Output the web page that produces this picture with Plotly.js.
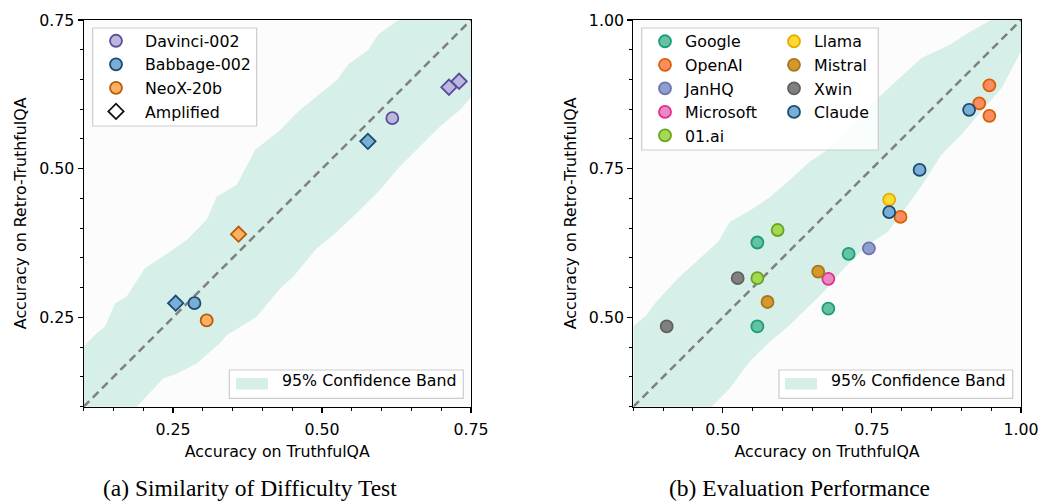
<!DOCTYPE html>
<html>
<head>
<meta charset="utf-8">
<script src="https://cdn.plot.ly/plotly-3.0.1.min.js"></script>
<style>
html,body{margin:0;padding:0;background:#fff;}
#chart{width:1041px;height:504px;}
</style>
</head>
<body>
<div id="chart"></div>
<script>
// ---------- Panel (a) data ----------
const rangeA = [0.1, 0.75];
const modelsA = ['Davinci-002', 'Babbage-002', 'NeoX-20b'];
const baseX = [0.618, 0.286, 0.3065];
const baseY = [0.585, 0.274, 0.245];
const ampDavinciX = [0.713, 0.730];
const ampDavinciY = [0.637, 0.647];
const ampBabbageX = [0.2545, 0.577];
const ampBabbageY = [0.274, 0.546];
const ampNeoXX = [0.360];
const ampNeoXY = [0.390];
// confidence band (a)
const bandAUpperX = [0.10, 0.119, 0.136, 0.153, 0.172, 0.203, 0.237, 0.273, 0.307, 0.323, 0.357, 0.388, 0.43, 0.46, 0.494, 0.525, 0.544, 0.578, 0.594, 0.628, 0.75];
const bandAUpperY = [0.201, 0.221, 0.235, 0.274, 0.285, 0.333, 0.355, 0.38, 0.415, 0.453, 0.473, 0.532, 0.565, 0.596, 0.624, 0.649, 0.675, 0.70, 0.725, 0.75, 0.87];
const bandALowerX = [0.10, 0.189, 0.234, 0.256, 0.29, 0.329, 0.34, 0.39, 0.43, 0.452, 0.491, 0.525, 0.558, 0.597, 0.631, 0.664, 0.698, 0.732, 0.75];
const bandALowerY = [0.0, 0.10, 0.148, 0.155, 0.173, 0.207, 0.22, 0.251, 0.299, 0.319, 0.366, 0.394, 0.425, 0.464, 0.504, 0.537, 0.571, 0.599, 0.62];

// ---------- Panel (b) data ----------
const rangeB = [0.35, 1.0];
const providers = ['Google', 'OpenAI', 'JanHQ', 'Microsoft', '01.ai', 'Llama', 'Mistral', 'Xwin', 'Claude'];
const provX = {
  'Google':    [0.558, 0.711, 0.677, 0.558],
  'OpenAI':    [0.947, 0.930, 0.947, 0.798],
  'JanHQ':     [0.745],
  'Microsoft': [0.677],
  '01.ai':     [0.592, 0.558],
  'Llama':     [0.779],
  'Mistral':   [0.660, 0.575],
  'Xwin':      [0.525, 0.406],
  'Claude':    [0.913, 0.830, 0.779]
};
const provY = {
  'Google':    [0.626, 0.607, 0.515, 0.485],
  'OpenAI':    [0.890, 0.860, 0.839, 0.669],
  'JanHQ':     [0.616],
  'Microsoft': [0.565],
  '01.ai':     [0.647, 0.566],
  'Llama':     [0.698],
  'Mistral':   [0.577, 0.526],
  'Xwin':      [0.566, 0.485],
  'Claude':    [0.849, 0.748, 0.677]
};
const bandBUpperX = [0.35, 0.372, 0.389, 0.406, 0.425, 0.459, 0.492, 0.512, 0.543, 0.576, 0.609, 0.646, 0.679, 0.76, 0.833, 0.88, 0.914, 0.95, 1.0];
const bandBUpperY = [0.485, 0.504, 0.527, 0.546, 0.566, 0.597, 0.627, 0.661, 0.678, 0.70, 0.728, 0.762, 0.784, 0.869, 0.936, 0.958, 0.98, 1.0, 1.05];
const bandBLowerX = [0.35, 0.481, 0.512, 0.545, 0.579, 0.612, 0.646, 0.671, 0.704, 0.743, 0.777, 0.810, 0.838, 0.866, 0.90, 0.933, 0.967, 1.0];
const bandBLowerY = [0.20, 0.35, 0.381, 0.426, 0.459, 0.487, 0.521, 0.545, 0.583, 0.622, 0.644, 0.689, 0.728, 0.773, 0.807, 0.846, 0.885, 0.947];

// ---------- styles ----------
const FONT = 'DejaVu Sans, sans-serif';
const FS = 15.8;
const bandColor = '#d6efe9';
const colA = {
  'Davinci-002': {fill: '#bcb7dc', edge: '#5b4c9e'},
  'Babbage-002': {fill: '#79aed6', edge: '#1d4a6e'},
  'NeoX-20b':    {fill: '#fdb062', edge: '#b65b08'}
};
const colB = {
  'Google':    {fill: '#66c2a5', edge: '#1b9e77'},
  'OpenAI':    {fill: '#fc8d62', edge: '#d95f02'},
  'JanHQ':     {fill: '#8da0cb', edge: '#7570b3'},
  'Microsoft': {fill: '#e78ac3', edge: '#e7298a'},
  '01.ai':     {fill: '#a6d854', edge: '#66a61e'},
  'Llama':     {fill: '#ffd92f', edge: '#e6ab02'},
  'Mistral':   {fill: '#d6982c', edge: '#a6761d'},
  'Xwin':      {fill: '#808080', edge: '#606060'},
  'Claude':    {fill: '#79aed6', edge: '#1d4a6e'}
};
const MS = 12, MW = 1.8, DS = 11.8;

function bandTrace(ux, uy, lx, ly, xa, ya) {
  return {
    x: ux.concat(lx.slice().reverse()),
    y: uy.concat(ly.slice().reverse()),
    xaxis: xa, yaxis: ya, type: 'scatter', mode: 'lines',
    fill: 'toself', fillcolor: bandColor, line: {width: 0, color: bandColor},
    name: '95% Confidence Band', showlegend: false, hoverinfo: 'skip'
  };
}
function bandLegendEntry(xa, ya, leg) {
  return {x: [null], y: [null], xaxis: xa, yaxis: ya, type: 'scatter', mode: 'markers',
    marker: {color: 'rgba(0,0,0,0)', size: 1},
    name: '95% Confidence Band', legend: leg, showlegend: true};
}
function diagTrace(r, xa, ya) {
  return {x: r, y: r, xaxis: xa, yaxis: ya, type: 'scatter', mode: 'lines',
    line: {color: '#808080', width: 2.5, dash: '8px,5px'}, showlegend: false, hoverinfo: 'skip'};
}

const traces = [];
traces.push(bandTrace(bandAUpperX, bandAUpperY, bandALowerX, bandALowerY, 'x', 'y'));
traces.push(bandLegendEntry('x', 'y', 'legend2'));
traces.push(diagTrace(rangeA, 'x', 'y'));
const ampX = {'Davinci-002': ampDavinciX, 'Babbage-002': ampBabbageX, 'NeoX-20b': ampNeoXX};
const ampY = {'Davinci-002': ampDavinciY, 'Babbage-002': ampBabbageY, 'NeoX-20b': ampNeoXY};
modelsA.forEach((m, i) => {
  traces.push({x: [baseX[i]], y: [baseY[i]], xaxis: 'x', yaxis: 'y', type: 'scatter', mode: 'markers',
    name: m, legend: 'legend',
    marker: {symbol: 'circle', size: MS, color: colA[m].fill, line: {color: colA[m].edge, width: MW}}});
});
modelsA.forEach((m) => {
  traces.push({x: ampX[m], y: ampY[m], xaxis: 'x', yaxis: 'y', type: 'scatter', mode: 'markers',
    name: m + ' (amplified)', showlegend: false,
    marker: {symbol: 'diamond', size: DS, color: colA[m].fill, line: {color: colA[m].edge, width: MW}}});
});
traces.push({x: [null], y: [null], xaxis: 'x', yaxis: 'y', type: 'scatter', mode: 'markers',
  name: 'Amplified', legend: 'legend',
  marker: {symbol: 'diamond', size: DS, color: '#ffffff', line: {color: '#111111', width: MW}}});

traces.push(bandTrace(bandBUpperX, bandBUpperY, bandBLowerX, bandBLowerY, 'x2', 'y2'));
traces.push(bandLegendEntry('x2', 'y2', 'legend4'));
traces.push(diagTrace(rangeB, 'x2', 'y2'));
providers.forEach((p, i) => {
  traces.push({x: provX[p], y: provY[p], xaxis: 'x2', yaxis: 'y2', type: 'scatter', mode: 'markers',
    name: p, legend: i < 5 ? 'legend3' : 'legend5',
    marker: {symbol: 'circle', size: MS, color: colB[p].fill, line: {color: colB[p].edge, width: MW}}});
});

function axis(range, domain, anchor, title, isX) {
  return {
    range: range, domain: domain, anchor: anchor,
    tick0: 0, dtick: 0.25, tickformat: '.2f',
    ticks: 'outside', ticklen: 5, tickwidth: 1.1, tickcolor: '#000',
    ticklabelstandoff: isX ? 3 : 0,
    minor: {tick0: 0, dtick: 0.05, ticks: 'outside', ticklen: 3, tickwidth: 1, tickcolor: '#000'},
    showline: true, linecolor: '#000', linewidth: 1.1, mirror: true,
    showgrid: false, zeroline: false,
    tickfont: {family: FONT, size: FS, color: '#000'},
    title: {text: title, font: {family: FONT, size: FS, color: '#000'}, standoff: 8},
    fixedrange: true
  };
}

const W = 1041, H = 504;
const xDomA = [83.6 / W, 471 / W];
const xDomB = [633.3 / W, 1021 / W];
const yDom = [(H - 406.7) / H, (H - 20) / H];

function legendBase(x, y, xa, ya, iw) {
  return {x: x, y: y, xanchor: xa, yanchor: ya, xref: 'paper', yref: 'paper',
    bgcolor: 'rgba(0,0,0,0)', borderwidth: 0, itemwidth: iw || 30,
    font: {family: FONT, size: FS, color: '#000'}, tracegroupgap: 0, itemsizing: 'trace'};
}
function box(x0, y0, x1, y1) {
  return {type: 'rect', xref: 'paper', yref: 'paper', layer: 'above',
    x0: x0 / W, x1: x1 / W, y0: (H - y1) / H, y1: (H - y0) / H,
    fillcolor: 'rgba(255,255,255,0.85)', line: {color: '#cccccc', width: 1.2}};
}
function patch(x0, y0, x1, y1) {
  return {type: 'rect', xref: 'paper', yref: 'paper', layer: 'above',
    x0: x0 / W, x1: x1 / W, y0: (H - y1) / H, y1: (H - y0) / H,
    fillcolor: bandColor, line: {width: 0}};
}

const layout = {
  width: W, height: H,
  margin: {l: 0, r: 0, t: 0, b: 0},
  paper_bgcolor: '#ffffff',
  plot_bgcolor: '#fcfcfc',
  font: {family: FONT, size: FS, color: '#000'},
  xaxis: axis(rangeA, xDomA, 'y', 'Accuracy on TruthfulQA', true),
  yaxis: axis(rangeA, yDom, 'x', 'Accuracy on Retro-TruthfulQA', false),
  xaxis2: axis(rangeB, xDomB, 'y2', 'Accuracy on TruthfulQA', true),
  yaxis2: axis(rangeB, yDom, 'x2', 'Accuracy on Retro-TruthfulQA', false),
  legend: legendBase(87 / W, (H - 24) / H, 'left', 'top', 48),
  legend2: legendBase(462 / W, (H - 397) / H, 'right', 'bottom'),
  legend3: legendBase(645 / W, (H - 24.5) / H, 'left', 'top'),
  legend4: legendBase(1011 / W, (H - 397) / H, 'right', 'bottom'),
  legend5: legendBase(774 / W, (H - 24.5) / H, 'left', 'top'),
  shapes: [
    box(92.7, 28, 256.7, 126),
    box(229.3, 370, 463.3, 398.3),
    patch(236, 378, 268, 389.5),
    box(641.7, 28, 878.3, 150),
    box(779, 370, 1012.7, 398.3),
    patch(785, 378, 817, 389.5)
  ],
  annotations: [
    {text: '(a) Similarity of Difficulty Test', x: 249.7 / W, y: (H - 488) / H, xref: 'paper', yref: 'paper',
     xanchor: 'center', yanchor: 'middle', showarrow: false,
     font: {family: 'Liberation Serif, Times New Roman, serif', size: 23.5, color: '#000'}},
    {text: '(b) Evaluation Performance', x: 799.3 / W, y: (H - 488) / H, xref: 'paper', yref: 'paper',
     xanchor: 'center', yanchor: 'middle', showarrow: false,
     font: {family: 'Liberation Serif, Times New Roman, serif', size: 23.5, color: '#000'}}
  ],
  showlegend: true
};

Plotly.newPlot('chart', traces, layout, {staticPlot: true, displayModeBar: false});
</script>
</body>
</html>
